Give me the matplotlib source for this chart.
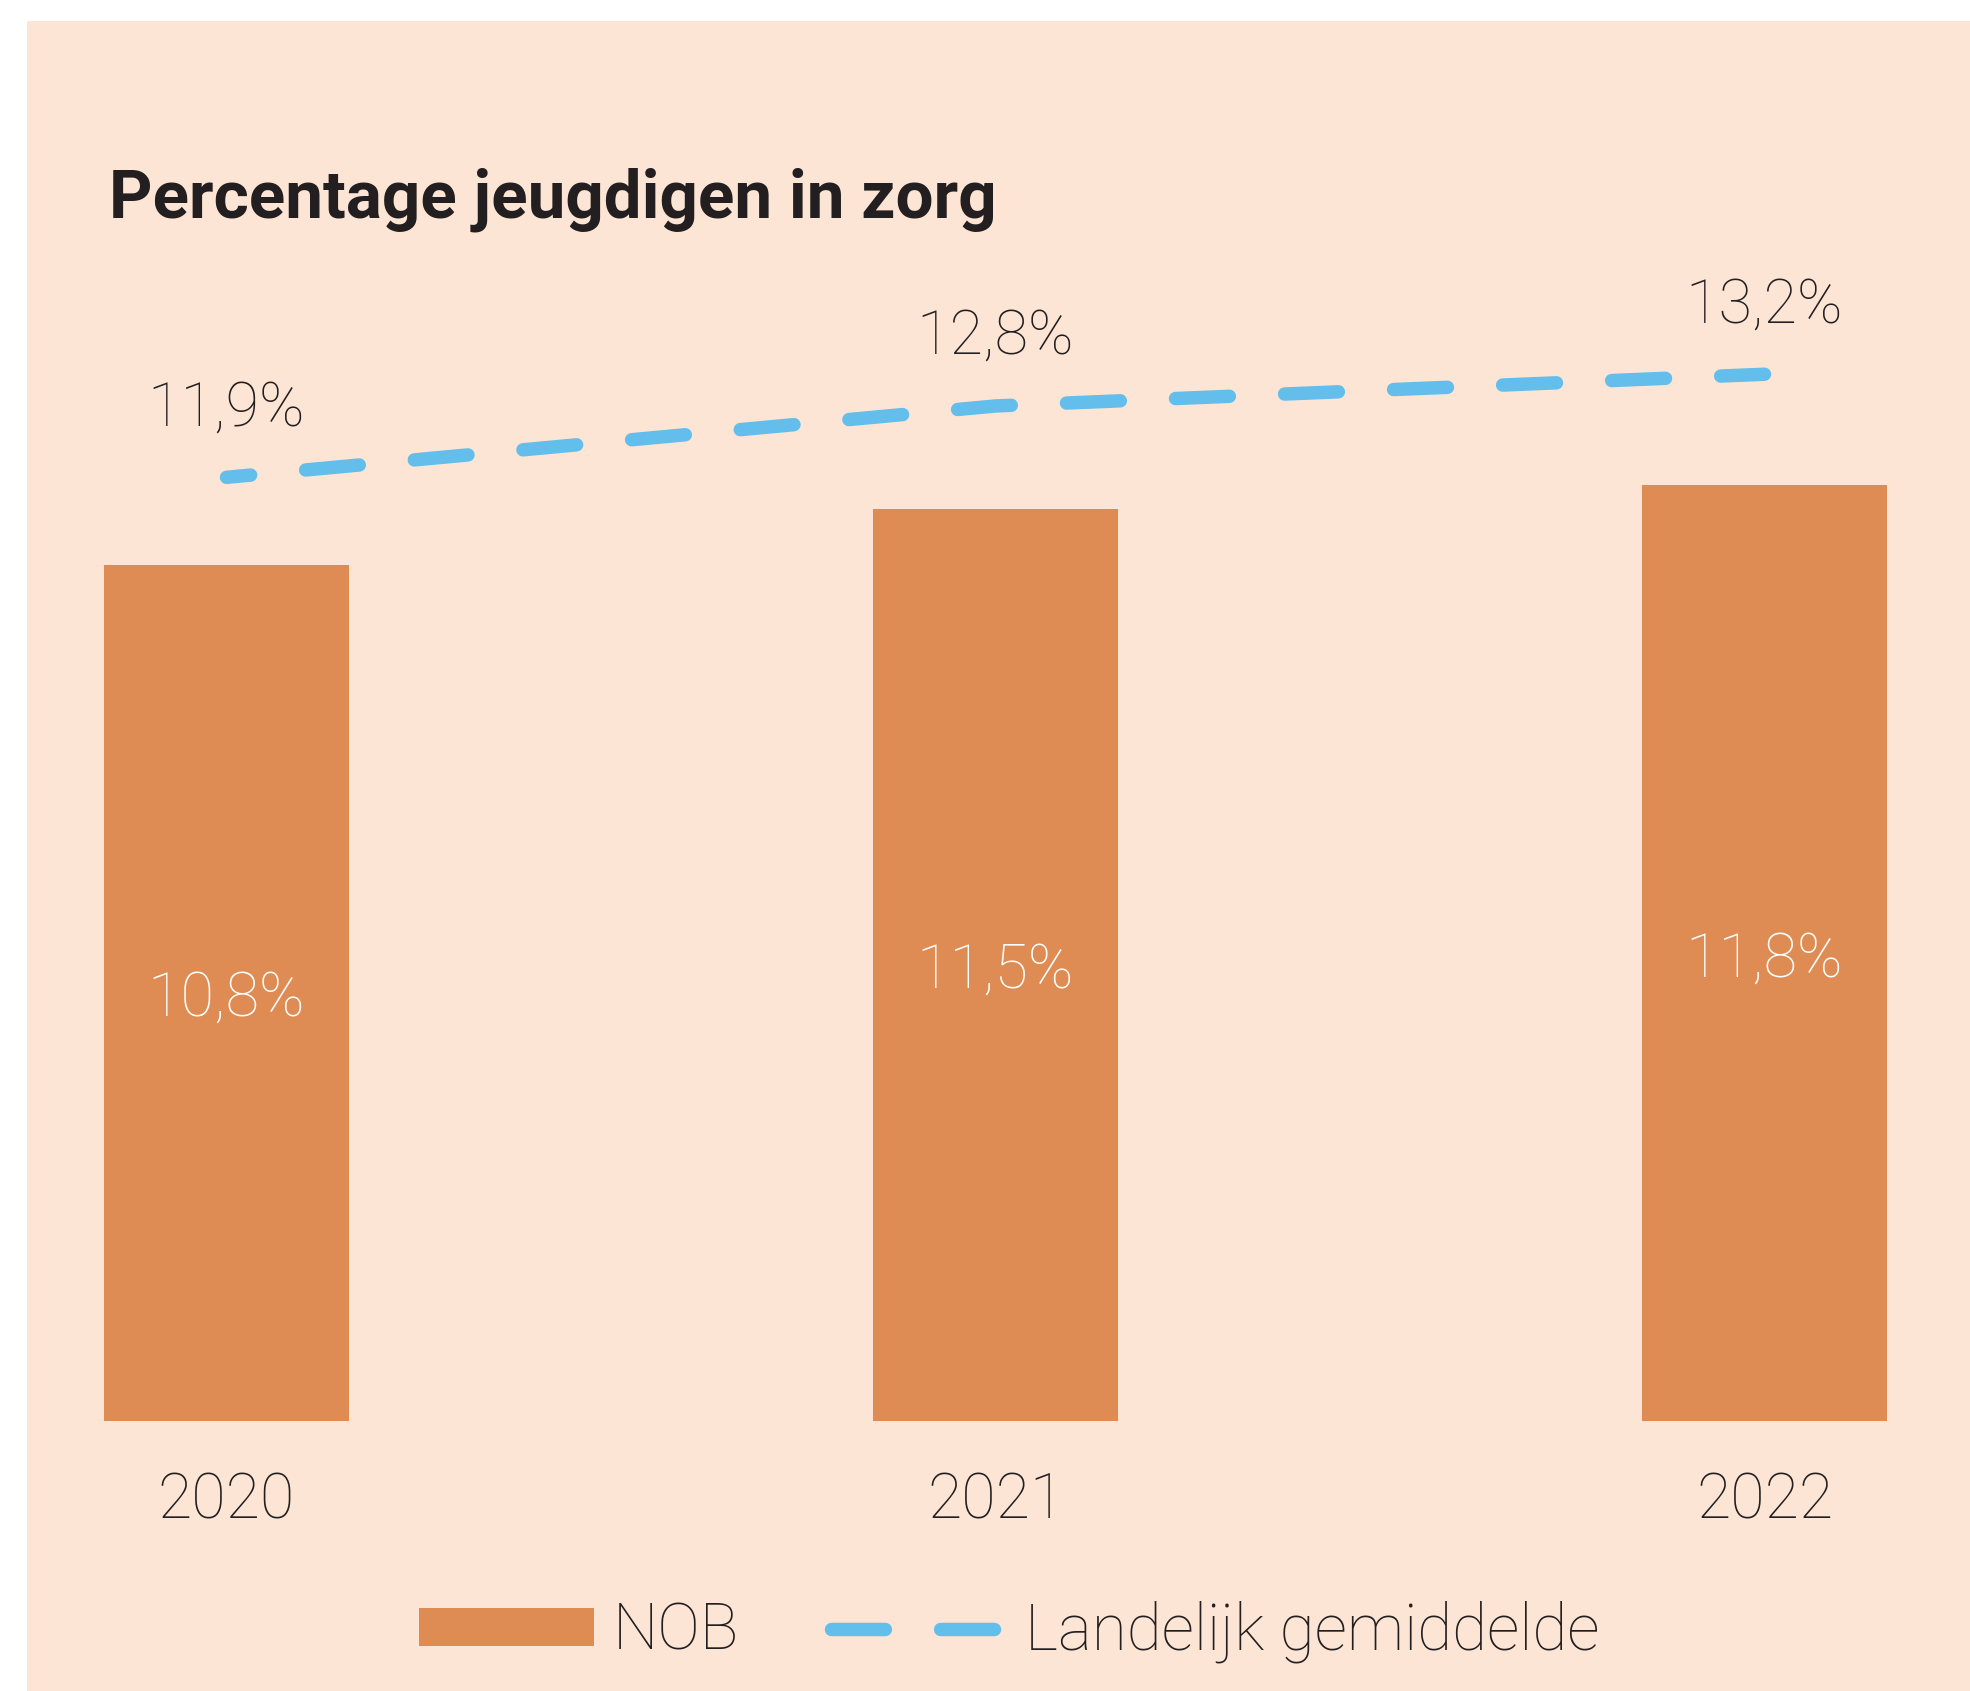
import matplotlib

matplotlib.use("Agg")
import matplotlib.pyplot as plt
from matplotlib.patches import Rectangle, Patch
from matplotlib.lines import Line2D

# ---------------------------------------------------------------------------
# Data
# ---------------------------------------------------------------------------
YEARS = ["2020", "2021", "2022"]
NOB = [10.8, 11.5, 11.8]            # bars
LANDELIJK = [11.9, 12.8, 13.2]      # dashed line
TITLE = "Percentage jeugdigen in zorg"
LEGEND_LABELS = ["NOB", "Landelijk gemiddelde"]

BG = "#FDE5D5"
ORANGE = "#DE8C53"
BLUE = "#63BEEC"
INK = "#231F20"


def pct(v):
    return f"{v:.1f}%".replace(".", ",")


plt.rcParams["font.family"] = ["Roboto", "DejaVu Sans"]

fig = plt.figure(figsize=(19.70, 16.91), dpi=100, facecolor="white")

# peach panel, leaving a thin white margin top/left
fig.patches.append(Rectangle((27 / 1970, 0), 1, 1 - 21 / 1691,
                             transform=fig.transFigure, facecolor=BG,
                             edgecolor="none", zorder=-10))

ax = fig.add_axes([0, 270 / 1691, 1, 1 - 270 / 1691])
ax.set_facecolor("none")
x = list(range(len(YEARS)))

ax.bar(x, NOB, width=0.3186, color=ORANGE, zorder=2)
ax.plot(x, LANDELIJK, color=BLUE, lw=9.7, linestyle=(2.2, (4.0, 4.1)),
        dash_capstyle="round", solid_capstyle="round", zorder=3,
        clip_on=False)

for xi, v in zip(x, NOB):
    ax.text(xi, v / 2, pct(v), ha="center", va="center_baseline",
            fontsize=44, color="white", fontweight="light")

for xi, v in zip(x, LANDELIJK):
    ax.annotate(pct(v), (xi, v), xytext=(0, 54), textcoords="offset points",
                ha="center", va="center_baseline", fontsize=44, color=INK,
                fontweight="light")

ax.set_xlim(-226.5 / 769, (1970 - 226.5) / 769)
ax.set_ylim(0, (1691 - 270) / 79.3)
ax.set_xticks(x, YEARS)
ax.tick_params(axis="x", length=0, pad=36, labelsize=45, labelcolor=INK)
for lab in ax.get_xticklabels():
    lab.set_fontweight("light")
ax.set_yticks([])
for s in ax.spines.values():
    s.set_visible(False)

fig.text(0.0555, 1 - 217 / 1691, TITLE, ha="left", va="baseline",
         fontsize=48.5, fontweight="bold", color=INK)

handles = [
    Patch(facecolor=ORANGE, edgecolor="none"),
    Line2D([], [], color=BLUE, lw=9.7, linestyle=(0, (4.0, 4.1)),
           dash_capstyle="round"),
]
leg = ax.legend(handles, LEGEND_LABELS, loc="center", ncol=2,
                bbox_to_anchor=(1009 / 1970, 59 / 1691),
                bbox_transform=fig.transFigure, frameon=False,
                prop={"size": 46, "weight": "light"},
                handlelength=2.75, handleheight=0.55, handletextpad=0.28,
                columnspacing=1.45)
for t in leg.get_texts():
    t.set_color(INK)

fig.savefig("out.png", dpi=100, facecolor="white")
